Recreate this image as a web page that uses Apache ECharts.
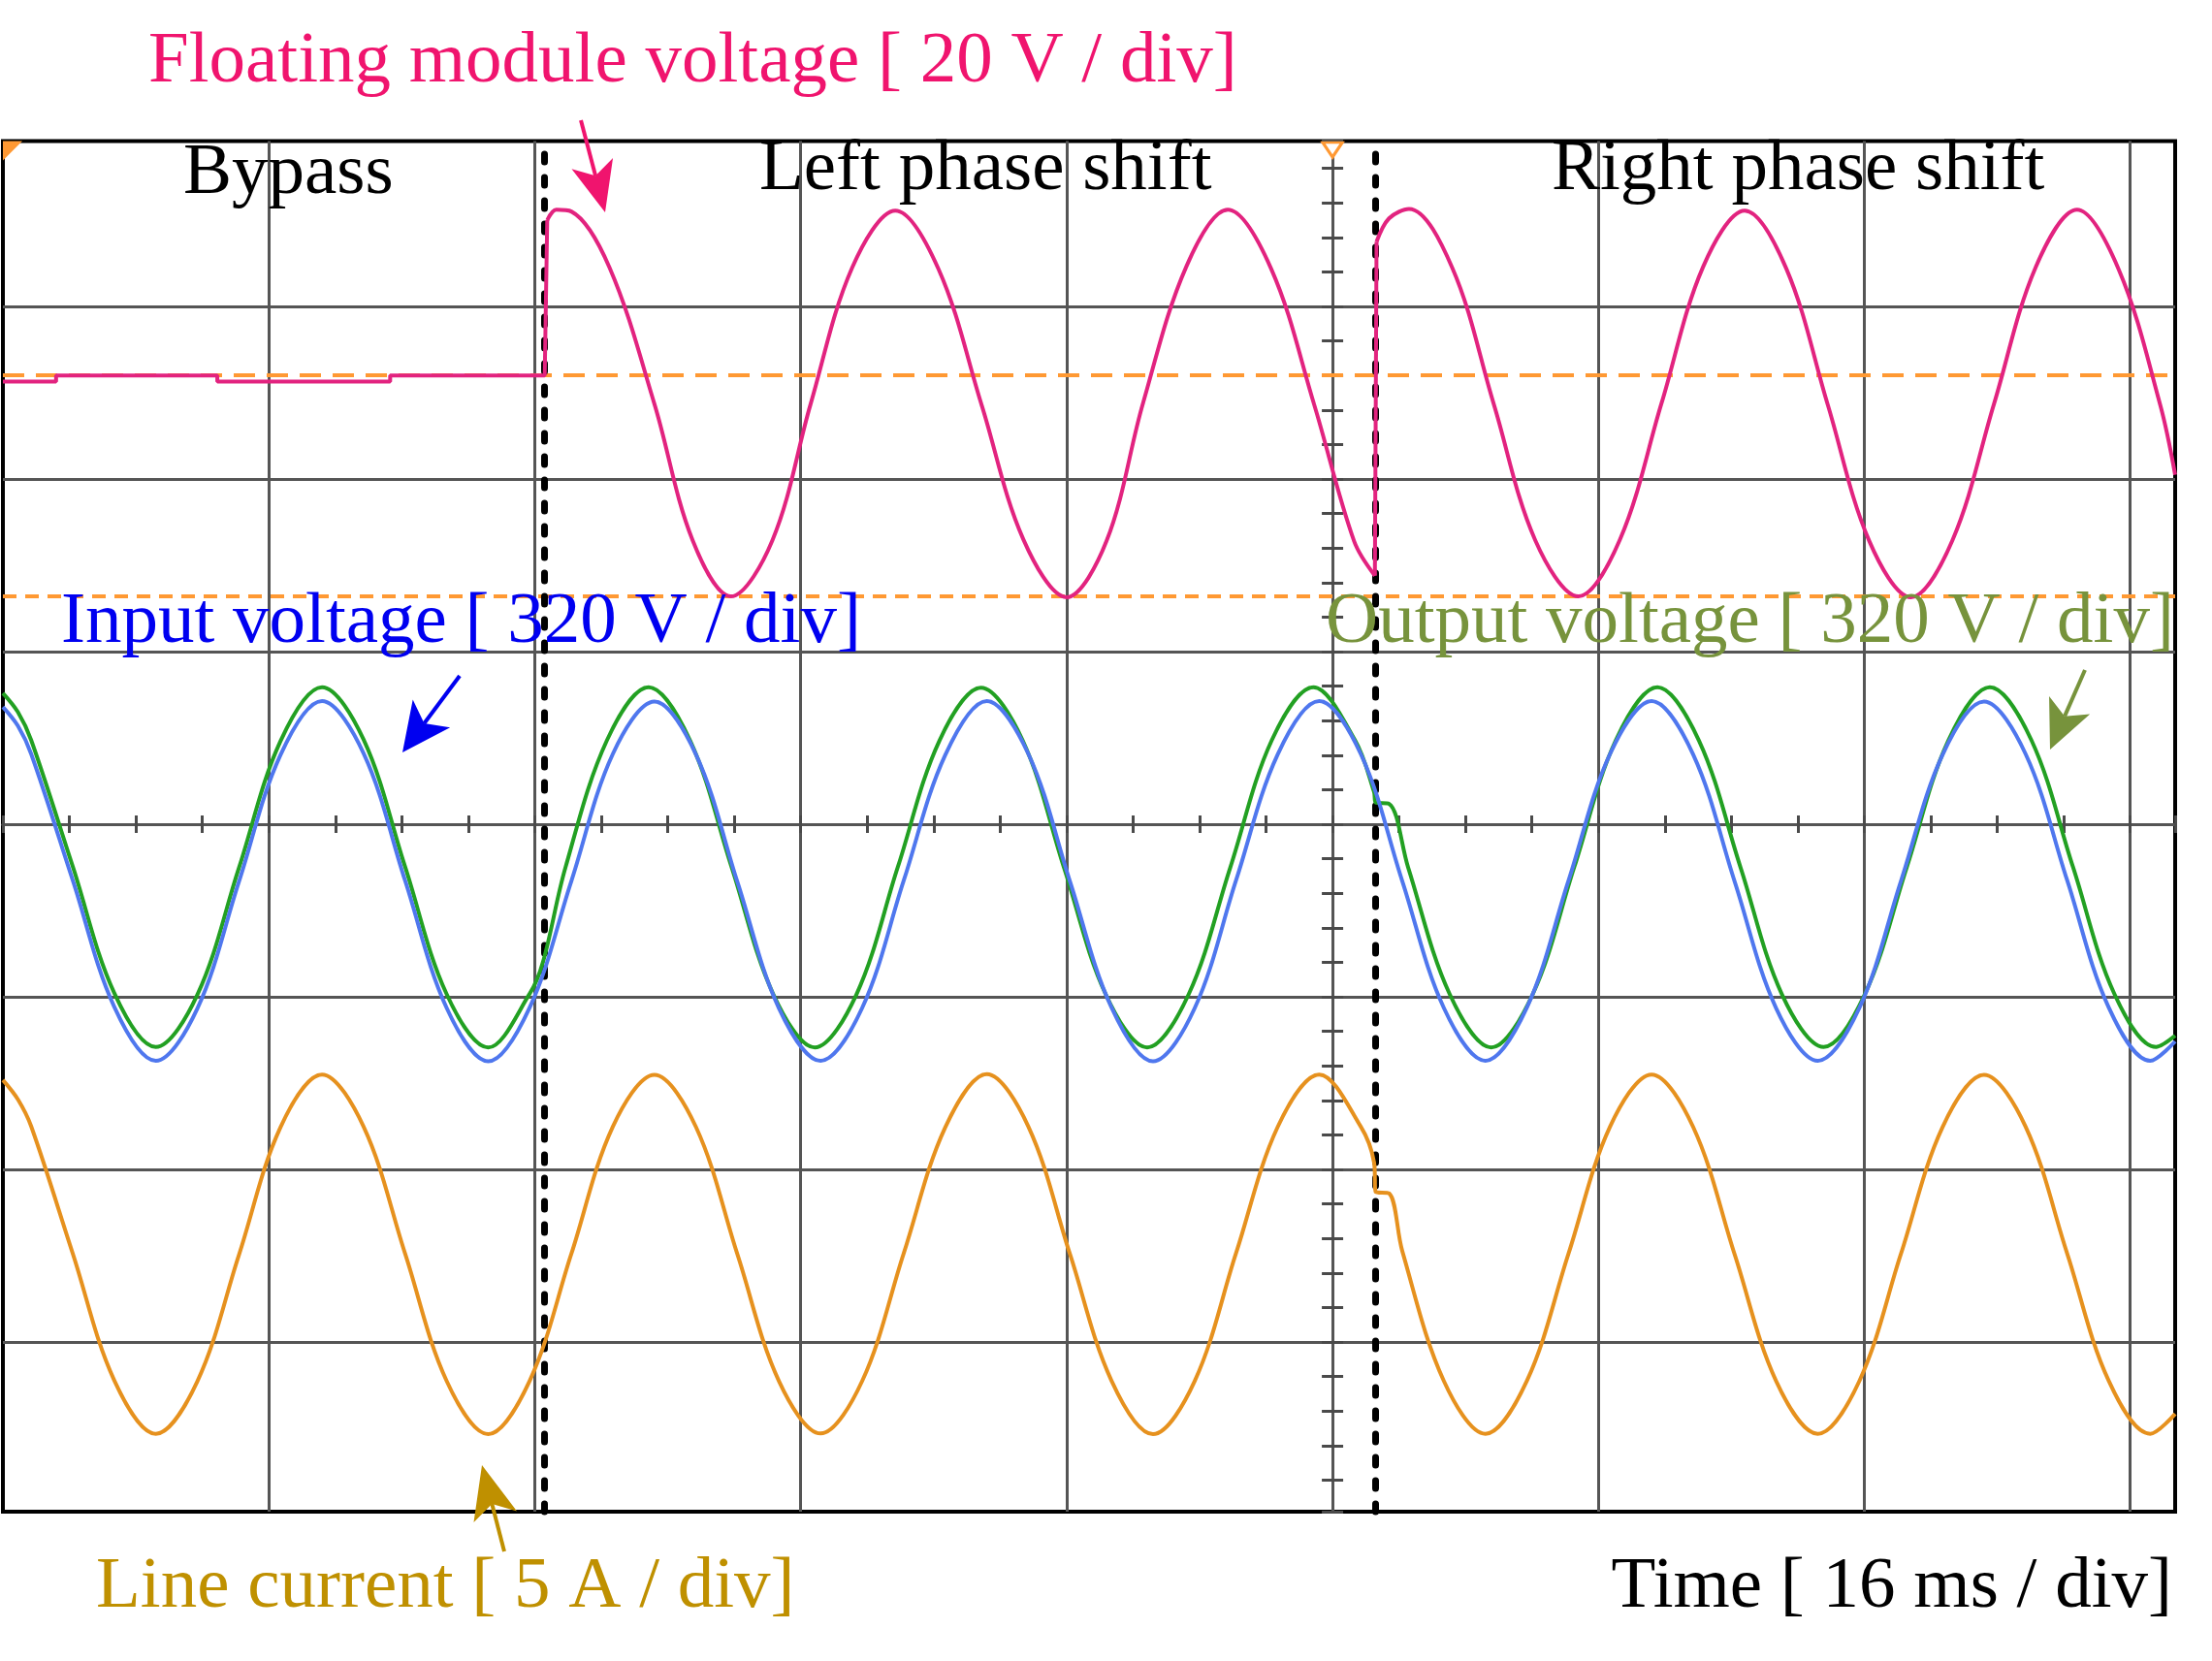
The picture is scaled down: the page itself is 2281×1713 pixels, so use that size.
<!DOCTYPE html>
<html>
<head>
<meta charset="utf-8">
<script src="https://cdn.jsdelivr.net/npm/echarts@6/dist/echarts.min.js"></script>
<style>
html,body{margin:0;padding:0;background:#ffffff;}
#c{width:2281px;height:1713px;}
</style>
</head>
<body>
<div id="c"></div>
<script>
// ================= DATA =================
// Time in ms (16 ms / div), screen shows 0 .. 130.7 ms
const timeRangeMs = [0, 130.7];
const timeGridMs = 16;

// Input voltage [V] (320 V / div)
const inputTimeMs = [0, 0.9, 1.7, 4.2, 6.7, 9.2, 11.7, 14.2, 16.7, 19.2, 21.7, 24.2, 26.7, 29.2, 31.7, 34.2, 36.7, 39.2, 41.7, 44.2, 46.7, 49.2, 51.7, 54.2, 56.7, 59.2, 61.7, 64.2, 66.7, 69.2, 71.7, 74.2, 76.7, 79.2, 81.7, 84.2, 86.7, 89.2, 91.7, 94.2, 96.7, 99.2, 101.7, 104.2, 106.7, 109.2, 111.7, 114.2, 116.7, 119.2, 121.7, 124.2, 126.7, 129.2, 130.7];
const inputVoltageV = [323, 288, 236, 2, -233, -333, -236, -1, 234, 334, 237, 1, -235, -334, -234, 0, 236, 333, 235, -2, -236, -333, -235, 1, 234, 334, 236, 0, -234, -334, -236, 2, 235, 334, 236, 0, -235, -333, -234, 1, 236, 334, 235, -1, -236, -333, -235, 0, 234, 333, 236, 2, -234, -333, -297];

// Output voltage [V] (320 V / div)
const outputTimeMs = [0, 0.9, 1.7, 4.2, 6.7, 9.2, 11.7, 14.2, 16.7, 19.2, 21.7, 24.2, 26.7, 29.2, 31.7, 32.5, 33.85, 36.35, 38.85, 41.35, 43.85, 46.35, 48.85, 51.35, 53.85, 56.35, 58.85, 61.35, 63.85, 66.35, 68.85, 71.35, 73.85, 76.35, 78.85, 81.35, 82.5, 82.6, 83.4, 84.55, 87.05, 89.55, 92.05, 94.55, 97.05, 99.55, 102.05, 104.55, 107.05, 109.55, 112.05, 114.55, 117.05, 119.55, 122.05, 124.55, 127.05, 129.55, 130.7];
const outputVoltageV = [323, 288, 236, 2, -233, -333, -236, -1, 234, 334, 237, 1, -235, -334, -234, -175, 0, 236, 334, 235, 0, -235, -334, -236, 1, 235, 333, 236, -1, -235, -334, -235, 0, 236, 334, 236, 140, 120, 118, 0, -235, -334, -235, 1, 236, 334, 235, 0, -236, -333, -234, 0, 235, 334, 236, 1, -235, -333, -312];

// Line current [A] (5 A / div)
const currentTimeMs = [0, 0.9, 1.7, 4.2, 6.7, 9.2, 11.7, 14.2, 16.7, 19.2, 21.7, 24.2, 26.7, 29.2, 31.7, 34.2, 36.7, 39.2, 41.7, 44.2, 46.7, 49.2, 51.7, 54.2, 56.7, 59.2, 61.7, 64.2, 66.7, 69.2, 71.7, 74.2, 76.7, 79.2, 81.7, 82.5, 82.6, 83.4, 84.2, 86.7, 89.2, 91.7, 94.2, 96.7, 99.2, 101.7, 104.2, 106.7, 109.2, 111.7, 114.2, 116.7, 119.2, 121.7, 124.2, 126.7, 129.2, 130.7];
const lineCurrentA = [5.04, 4.48, 3.70, 0.02, -3.66, -5.21, -3.69, -0.03, 3.67, 5.20, 3.69, 0.01, -3.68, -5.22, -3.67, 0.0, 3.69, 5.19, 3.68, -0.02, -3.69, -5.20, -3.68, 0.02, 3.67, 5.21, 3.69, 0.0, -3.67, -5.22, -3.69, 0.03, 3.68, 5.20, 3.69, 2.65, 1.80, 1.76, 0.08, -3.68, -5.21, -3.67, 0.01, 3.69, 5.20, 3.68, -0.02, -3.69, -5.21, -3.68, 0.0, 3.67, 5.19, 3.69, 0.02, -3.67, -5.21, -4.63];

// Floating module voltage [V] (20 V / div), one array pair per operating segment
const moduleBypassTimeMs = [0, 3.2, 3.2, 12.9, 12.9, 23.3, 23.3, 32.6, 32.75];
const moduleBypassV = [-0.7, -0.7, 0, 0, -0.7, -0.7, 0, 0, 18.0];
const moduleLeftTimeMs = [32.75, 33.3, 34.2, 36.5, 39.2, 41.5, 43.8, 46.3, 48.6, 51.1, 53.7, 56.3, 58.9, 61.4, 64.0, 66.4, 68.6, 71.2, 73.7, 76.3, 78.9, 81.3, 82.55];
const moduleLeftV = [18.0, 19.2, 19.0, 12.5, -3.3, -19.1, -25.6, -19.1, -3.3, 12.5, 19.1, 12.3, -3.5, -19.0, -25.7, -19.2, -3.2, 12.6, 19.2, 12.4, -3.4, -19.2, -23.2];
const moduleSwitchTimeMs = [82.55, 82.65];
const moduleSwitchV = [-23.2, 15.5];
const moduleRightTimeMs = [82.65, 83.4, 84.6, 87.2, 89.7, 92.2, 94.8, 97.3, 99.8, 102.3, 104.8, 107.3, 109.8, 112.3, 114.8, 117.3, 119.8, 122.3, 124.8, 127.3, 129.8, 130.7];
const moduleRightV = [15.5, 18.2, 19.3, 12.5, -3.3, -19.1, -25.6, -19.0, -3.2, 12.6, 19.1, 12.4, -3.4, -19.2, -25.7, -19.1, -3.3, 12.5, 19.2, 12.3, -3.4, -11.5];

// Cursor levels on the floating module channel [V] and mode switching instants [ms]
const moduleCursorLevelsV = [0, -25.6];
const modeSwitchTimesMs = [32.55, 82.55];
const triggerTimeMs = 80;

// Texts
const modeLabels = ['Bypass', 'Left phase shift', 'Right phase shift'];
const channelLabels = ['Floating module voltage [ 20 V / div]', 'Input voltage [ 320 V / div]', 'Output voltage [ 320 V / div]', 'Line current [ 5 A / div]'];
const timeLabel = 'Time [ 16 ms / div]';

// ================= SCOPE SETTINGS =================
const screenDivRange = [-3.983, 3.958];   // vertical screen extent in divisions (0 = centre line)
const channels = {
  module:  { scale: 20,  offsetDiv: 2.6 },
  input:   { scale: 320, offsetDiv: -0.33 },
  output:  { scale: 320, offsetDiv: -0.25 },
  current: { scale: 5,   offsetDiv: -2.49 }
};

// ================= BUILD =================
const chart = echarts.init(document.getElementById('c'), null, { width: 2281, height: 1713 });
const FONT = 'Liberation Serif, "Times New Roman", serif';
const COL = {
  module: '#E2237F', input: '#4F77EE', output: '#22A022', current: '#E6911E',
  cursor: '#FF9933', grid: '#555555', tick: '#4a4a4a',
  moduleText: '#F0146E', inputText: '#0000F0', outputText: '#77933C', currentText: '#BF9000'
};

const toPts = (ts, vs, ch) => ts.map((t, i) => [t, ch.offsetDiv + vs[i] / ch.scale]);
const trace = (name, pts, color, smooth, z) => ({
  type: 'line', name, data: pts, symbol: 'none', smooth: smooth, silent: true,
  lineStyle: { color, width: 4 }, itemStyle: { color }, z, animation: false
});

const tickStyle = { color: COL.tick, width: 3 };
const baseX = {
  type: 'value', min: timeRangeMs[0], max: timeRangeMs[1], interval: timeGridMs, position: 'bottom',
  axisLabel: { show: false }
};
const baseY = {
  type: 'value', min: screenDivRange[0], max: screenDivRange[1], splitNumber: 8, position: 'left',
  axisLabel: { show: false }
};
const gridLine = { show: true, showMinLine: false, showMaxLine: false, lineStyle: { color: COL.grid, width: 3 } };

const option = {
  backgroundColor: '#ffffff',
  animation: false,
  grid: { left: 3, top: 145.5, width: 2240, height: 1413.5, show: true, borderColor: '#000000', borderWidth: 4,
          backgroundColor: '#ffffff', containLabel: false, outerBoundsMode: 'none' },
  xAxis: [
    Object.assign({}, baseX, {
      axisLine: { show: true, onZero: true, onZeroAxisIndex: 0, lineStyle: { color: COL.grid, width: 3 } },
      axisTick: { show: true, inside: true, length: 9, lineStyle: tickStyle },
      minorTick: { show: true, splitNumber: 4, length: 9, lineStyle: tickStyle },
      splitLine: gridLine
    }),
    Object.assign({}, baseX, {
      axisLine: { show: true, onZero: true, onZeroAxisIndex: 0, lineStyle: { color: COL.grid, width: 3 } },
      axisTick: { show: true, inside: false, length: 9, lineStyle: tickStyle },
      minorTick: { show: true, splitNumber: 4, length: 9, lineStyle: tickStyle },
      splitLine: { show: false }
    }),
    { type: 'value', min: timeRangeMs[0] - triggerTimeMs, max: timeRangeMs[1] - triggerTimeMs, position: 'top',
      axisLine: { show: false }, axisTick: { show: false }, axisLabel: { show: false }, splitLine: { show: false } }
  ],
  yAxis: [
    Object.assign({}, baseY, {
      axisLine: { show: true, onZero: true, onZeroAxisIndex: 2, lineStyle: { color: COL.grid, width: 3 } },
      axisTick: { show: true, inside: true, length: 11, lineStyle: tickStyle },
      minorTick: { show: true, splitNumber: 5, length: 11, lineStyle: tickStyle },
      splitLine: gridLine
    }),
    Object.assign({}, baseY, {
      axisLine: { show: true, onZero: true, onZeroAxisIndex: 2, lineStyle: { color: COL.grid, width: 3 } },
      axisTick: { show: true, inside: false, length: 11, lineStyle: tickStyle },
      minorTick: { show: true, splitNumber: 5, length: 11, lineStyle: tickStyle },
      splitLine: { show: false }
    })
  ],
  series: [
    {
      type: 'line', name: 'cursors', data: [], z: 2, silent: true,
      markLine: {
        silent: true, symbol: ['none', 'none'], label: { show: false }, animation: false,
        data: [
          { yAxis: channels.module.offsetDiv + moduleCursorLevelsV[0] / channels.module.scale,
            lineStyle: { color: COL.cursor, width: 4, type: [22, 12] } },
          { yAxis: channels.module.offsetDiv + moduleCursorLevelsV[1] / channels.module.scale,
            lineStyle: { color: COL.cursor, width: 4, type: [14, 9] } }
        ]
      },
      markPoint: {
        silent: true, label: { show: false }, animation: false,
        data: [
          { coord: [triggerTimeMs, screenDivRange[1]], symbol: 'triangle', symbolSize: [20, 15], symbolRotate: 180,
            symbolOffset: [0, 9], itemStyle: { color: '#ffffff', borderColor: COL.cursor, borderWidth: 3 } },
          { coord: [timeRangeMs[0], screenDivRange[1]], symbol: 'path://M0,0L1,0L0,1Z', symbolSize: 20,
            symbolOffset: [10, 10], itemStyle: { color: COL.cursor } }
        ]
      }
    },
    trace('Floating module voltage (bypass)', toPts(moduleBypassTimeMs, moduleBypassV, channels.module), COL.module, false, 5),
    trace('Floating module voltage (left)', toPts(moduleLeftTimeMs, moduleLeftV, channels.module), COL.module, 0.35, 5),
    trace('Floating module voltage (switch)', toPts(moduleSwitchTimeMs, moduleSwitchV, channels.module), COL.module, false, 5),
    trace('Floating module voltage (right)', toPts(moduleRightTimeMs, moduleRightV, channels.module), COL.module, 0.35, 5),
    trace('Output voltage', toPts(outputTimeMs, outputVoltageV, channels.output), COL.output, 0.35, 5),
    trace('Input voltage', toPts(inputTimeMs, inputVoltageV, channels.input), COL.input, 0.35, 6),
    trace('Line current', toPts(currentTimeMs, lineCurrentA, channels.current), COL.current, 0.35, 5),
    {
      type: 'line', name: 'mode switching', data: [], z: 20, silent: true,
      markLine: {
        silent: true, symbol: ['none', 'none'], label: { show: false }, animation: false,
        lineStyle: { color: '#000000', width: 7, type: [8, 16], cap: 'round' },
        data: modeSwitchTimesMs.map(t => ({ xAxis: t }))
      }
    }
  ],
  graphic: []
};

chart.setOption(option);

// ---- annotation texts and arrows (layout only) ----
function txt(text, x, y, color, align) {
  return { type: 'text', x, y, z: 100, silent: true,
    style: { text, fill: color, font: '75px ' + FONT, align: align || 'left', verticalAlign: 'middle' } };
}
function arrow(tail, tip, color, headLen, headW, lw) {
  const dx = tip[0] - tail[0], dy = tip[1] - tail[1];
  const L = Math.hypot(dx, dy), ux = dx / L, uy = dy / L, px = -uy, py = ux;
  const bx = tip[0] - ux * headLen, by = tip[1] - uy * headLen;
  const nx = tip[0] - ux * headLen * 0.75, ny = tip[1] - uy * headLen * 0.75;
  return [
    { type: 'line', z: 100, silent: true, shape: { x1: tail[0], y1: tail[1], x2: nx, y2: ny },
      style: { stroke: color, lineWidth: lw } },
    { type: 'polygon', z: 100, silent: true,
      shape: { points: [[tip[0], tip[1]], [bx + px * headW / 2, by + py * headW / 2], [nx, ny], [bx - px * headW / 2, by - py * headW / 2]] },
      style: { fill: color } }
  ];
}

const graphics = [
  txt(channelLabels[0], 153, 64, COL.moduleText),
  txt(modeLabels[0], 189, 179, '#000000'),
  txt(modeLabels[1], 783, 175, '#000000'),
  txt(modeLabels[2], 1600, 175, '#000000'),
  txt(channelLabels[1], 63, 642, COL.inputText),
  txt(channelLabels[2], 1367, 642, COL.outputText),
  txt(channelLabels[3], 99, 1637, COL.currentText),
  txt(timeLabel, 2240, 1637, '#000000', 'right')
].concat(
  arrow([599, 124], [624, 219], COL.moduleText, 52, 44, 4),
  arrow([474, 697], [415, 776], COL.inputText, 50, 48, 4),
  arrow([2150, 691], [2114, 773], COL.outputText, 50, 46, 4),
  arrow([520, 1600], [497, 1511], COL.currentText, 55, 46, 4)
);

chart.setOption({ graphic: graphics });
</script>
</body>
</html>
